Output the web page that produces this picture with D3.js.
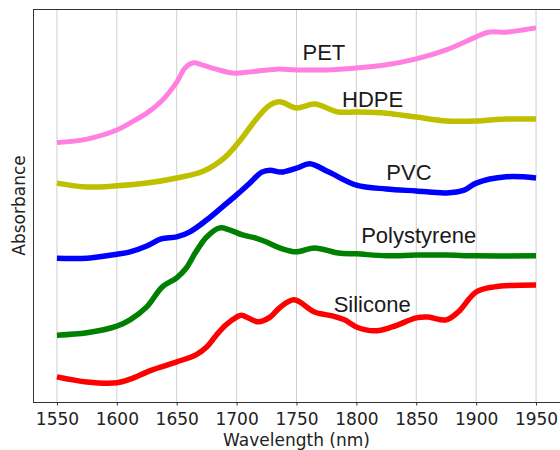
<!DOCTYPE html>
<html>
<head>
<meta charset="utf-8">
<script src="https://cdn.jsdelivr.net/npm/d3@7"></script>
<style>
  body { margin: 0; background: #fff; }
  svg { display: block; }
</style>
</head>
<body>
<svg id="chart" width="560" height="450"></svg>
<script>
// spectra (arbitrary absorbance, stacked with offsets)
const petWl = [1550, 1575, 1600, 1611, 1625, 1638, 1650, 1657, 1664, 1671, 1683, 1697, 1711, 1733, 1750, 1775, 1800, 1825, 1850, 1875, 1900, 1910, 1925, 1940, 1950];
const petAbs = [0.660, 0.669, 0.692, 0.710, 0.735, 0.768, 0.814, 0.850, 0.863, 0.858, 0.847, 0.837, 0.840, 0.847, 0.845, 0.845, 0.850, 0.858, 0.873, 0.896, 0.929, 0.941, 0.941, 0.947, 0.952];

const hdpeWl = [1550, 1575, 1600, 1625, 1650, 1672, 1690, 1702, 1716, 1727, 1736, 1750, 1765, 1785, 1800, 1825, 1850, 1875, 1900, 1925, 1950];
const hdpeAbs = [0.557, 0.547, 0.550, 0.557, 0.570, 0.587, 0.622, 0.662, 0.718, 0.754, 0.764, 0.748, 0.758, 0.738, 0.738, 0.735, 0.725, 0.715, 0.715, 0.720, 0.720];

const pvcWl = [1550, 1575, 1600, 1611, 1625, 1637, 1650, 1661, 1675, 1688, 1700, 1711, 1721, 1728, 1737, 1750, 1761, 1777, 1800, 1825, 1850, 1875, 1890, 1900, 1925, 1950];
const pvcAbs = [0.366, 0.366, 0.376, 0.382, 0.397, 0.415, 0.420, 0.433, 0.463, 0.496, 0.527, 0.557, 0.585, 0.590, 0.585, 0.595, 0.606, 0.585, 0.552, 0.542, 0.537, 0.532, 0.539, 0.557, 0.573, 0.570];

const psWl = [1550, 1575, 1600, 1611, 1625, 1638, 1650, 1658, 1666, 1675, 1686, 1694, 1705, 1716, 1725, 1736, 1750, 1765, 1785, 1800, 1825, 1850, 1875, 1900, 1950];
const psAbs = [0.170, 0.176, 0.193, 0.209, 0.242, 0.293, 0.316, 0.341, 0.382, 0.420, 0.443, 0.438, 0.425, 0.417, 0.407, 0.392, 0.382, 0.392, 0.379, 0.377, 0.372, 0.374, 0.374, 0.372, 0.372];

const siWl = [1550, 1575, 1600, 1611, 1628, 1650, 1666, 1675, 1683, 1691, 1700, 1704, 1718, 1728, 1736, 1748, 1765, 1780, 1790, 1800, 1815, 1830, 1850, 1860, 1875, 1885, 1900, 1915, 1950];
const siAbs = [0.064, 0.051, 0.049, 0.058, 0.080, 0.102, 0.120, 0.140, 0.170, 0.196, 0.216, 0.221, 0.204, 0.216, 0.240, 0.260, 0.229, 0.219, 0.209, 0.191, 0.181, 0.191, 0.214, 0.216, 0.209, 0.229, 0.280, 0.293, 0.298];

const xTicks = [1550, 1600, 1650, 1700, 1750, 1800, 1850, 1900, 1950];

const series = [
  { name: 'PET', wl: petWl, abs: petAbs, color: '#ff80e0', lx: 1755, ly: 0.87 },
  { name: 'HDPE', wl: hdpeWl, abs: hdpeAbs, color: '#bfbf00', lx: 1788, ly: 0.75 },
  { name: 'PVC', wl: pvcWl, abs: pvcAbs, color: '#0000ff', lx: 1825, ly: 0.565 },
  { name: 'Polystyrene', wl: psWl, abs: psAbs, color: '#008000', lx: 1804, ly: 0.405 },
  { name: 'Silicone', wl: siWl, abs: siAbs, color: '#ff0000', lx: 1781, ly: 0.229 },
];

const svg = d3.select('#chart');
const margin = { top: 9, right: 0, bottom: 48, left: 33 };
const width = 560 - margin.left - margin.right;
const height = 450 - margin.top - margin.bottom;

const chart = svg.append('g')
  .attr('transform', `translate(${margin.left}, ${margin.top})`);

const x = d3.scaleLinear()
  .domain([1530, 1970])
  .range([0, width]);

const y = d3.scaleLinear()
  .domain([0, 1])
  .range([height, 0]);

// vertical grid
chart.append('g')
  .selectAll('line')
  .data(xTicks)
  .join('line')
    .attr('x1', d => x(d))
    .attr('x2', d => x(d))
    .attr('y1', 0)
    .attr('y2', height)
    .style('stroke', '#cfcfcf')
    .style('stroke-width', 1);

const line = d3.line()
  .x(d => x(d[0]))
  .y(d => y(d[1]))
  .curve(d3.curveCatmullRom.alpha(0.5));

series.forEach((s) => {
  const pts = s.wl.map((w, i) => [w, s.abs[i]]);
  chart.append('path')
    .datum(pts)
    .attr('d', line)
    .style('fill', 'none')
    .style('stroke', s.color)
    .style('stroke-width', s.name === 'PET' ? 5 : 5.5)
    .style('stroke-linejoin', 'round');
});

// labels next to each curve
chart.append('g')
  .selectAll('text')
  .data(series)
  .join('text')
    .attr('x', d => x(d.lx))
    .attr('y', d => y(d.ly))
    .style('font-family', 'Liberation Sans, Arial, sans-serif')
    .style('font-size', '22px')
    .style('fill', '#1a1a1a')
    .text(d => d.name);

// frame
chart.append('rect')
  .attr('x', 0.5)
  .attr('y', 0.5)
  .attr('width', width)
  .attr('height', height)
  .style('fill', 'none')
  .style('stroke', '#333')
  .style('stroke-width', 1);

// x-axis
const xAxis = chart.append('g')
  .attr('transform', `translate(0, ${height})`)
  .call(d3.axisBottom(x).tickValues(xTicks).tickSize(3.5).tickPadding(7).tickFormat(d3.format('d')));
xAxis.select('.domain').remove();
xAxis.selectAll('line').style('stroke', '#333');
xAxis.selectAll('text')
  .style('font-family', 'DejaVu Sans, sans-serif')
  .style('font-size', '17px')
  .style('fill', '#222');

chart.append('text')
  .attr('x', width / 2)
  .attr('y', height + 44)
  .attr('text-anchor', 'middle')
  .style('font-family', 'DejaVu Sans, sans-serif')
  .style('font-size', '17px')
  .style('fill', '#222')
  .text('Wavelength (nm)');

chart.append('text')
  .attr('transform', `translate(${25 - margin.left}, ${height / 2}) rotate(-90)`)
  .attr('text-anchor', 'middle')
  .style('font-family', 'DejaVu Sans, sans-serif')
  .style('font-size', '17px')
  .style('fill', '#222')
  .text('Absorbance');
</script>
</body>
</html>
